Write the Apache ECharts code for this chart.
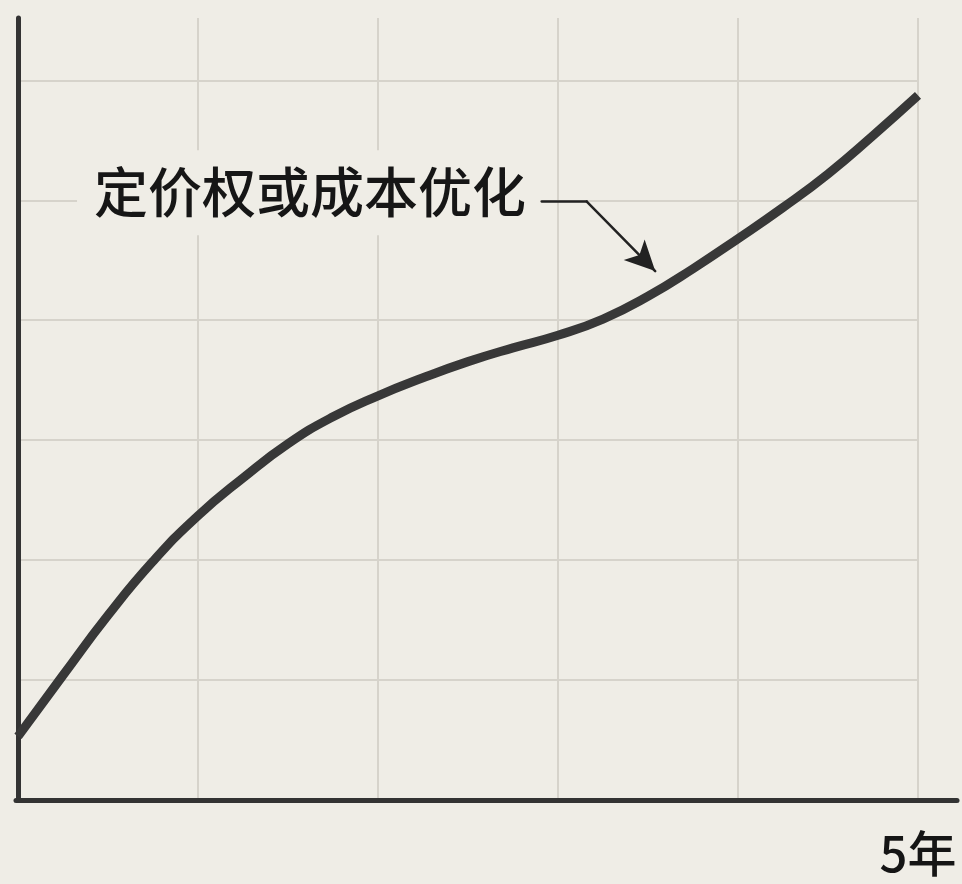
<!DOCTYPE html>
<html>
<head>
<meta charset="utf-8">
<script src="https://cdn.jsdelivr.net/npm/echarts@6/dist/echarts.min.js"></script>
<style>
  html, body { margin: 0; padding: 0; background: #efede6; }
  #chart { width: 962px; height: 884px; }
</style>
</head>
<body>
<div id="chart"></div>
<script>
// Years on x axis (0..5), value on y axis (grid units)
const xValues = [0, 0.25, 0.5, 0.75, 1, 1.25, 1.5, 1.75, 2, 2.25, 2.5, 2.75, 3, 3.25, 3.5, 3.75, 4, 4.25, 4.5, 4.75, 5];
const yValues = [0.53, 1.04, 1.54, 1.99, 2.37, 2.685, 2.97, 3.195, 3.37, 3.52, 3.655, 3.77, 3.875, 4.01, 4.2, 4.43, 4.68, 4.94, 5.22, 5.54, 5.875];
const xTickLabels = { 5: '5年' };
const annotationText = '定价权或成本优化';
const annotationAt = [1.614, 5.0625];
const arrowPath = [[2.91, 4.99], [3.16, 4.99], [3.54, 4.41]];

const BG = '#efede6';
const GRID = '#d6d3cb';
const INK = '#333333';

const chart = echarts.init(document.getElementById('chart'), null, { renderer: 'canvas' });

const seriesData = xValues.map((x, i) => [x, yValues[i]]);

chart.setOption({
  backgroundColor: BG,
  animation: false,
  grid: [
    { left: 18, right: 44, top: 18, bottom: 84 },
    { left: 16, right: 5, top: 18, bottom: 84 }
  ],
  xAxis: [
    {
      type: 'value', gridIndex: 0, min: 0, max: 5, interval: 1,
      axisLine: { show: false },
      axisTick: { show: false },
      axisLabel: {
        show: true, margin: 29,
        formatter: v => xTickLabels[v] || '',
        fontFamily: '"Noto Sans CJK SC", sans-serif',
        fontSize: 49, color: '#151515', fontWeight: 500
      },
      splitLine: { show: true, lineStyle: { color: GRID, width: 2 } }
    },
    {
      type: 'value', gridIndex: 1, min: 0, max: 1,
      axisLine: { show: true, onZero: false, lineStyle: { color: INK, width: 5 } },
      axisTick: { show: false }, axisLabel: { show: false }, splitLine: { show: false }
    }
  ],
  yAxis: [
    {
      type: 'value', gridIndex: 0, min: 0, max: 6.52, interval: 1,
      axisLine: { show: true, lineStyle: { color: INK, width: 5 } },
      axisTick: { show: false },
      axisLabel: { show: false },
      splitLine: { show: true, showMaxLine: false, lineStyle: { color: GRID, width: 2 } }
    },
    {
      type: 'value', gridIndex: 1, min: 0, max: 1, show: false
    }
  ],
  series: [
    {
      type: 'line',
      xAxisIndex: 0, yAxisIndex: 0,
      data: seriesData,
      smooth: 0.5,
      symbol: 'none',
      lineStyle: { color: '#383838', width: 9, cap: 'butt' },
      z: 3,
      markLine: {
        silent: true,
        symbol: ['none', 'none'],
        label: { show: false },
        lineStyle: { color: '#222', width: 2.5, type: 'solid', cap: 'round' },
        emphasis: { disabled: true },
        data: [
          [ { coord: arrowPath[0], symbol: 'none' }, { coord: arrowPath[1], symbol: 'none' } ],
          [ { coord: arrowPath[1], symbol: 'none' }, { coord: arrowPath[2], symbol: 'arrow', symbolSize: [22, 30] } ]
        ]
      },
      markPoint: {
        silent: true,
        symbol: 'rect',
        symbolSize: 1,
        itemStyle: { color: 'rgba(0,0,0,0)' },
        label: {
          show: true,
          position: 'inside',
          formatter: annotationText,
          fontFamily: '"Noto Sans CJK SC", sans-serif',
          fontSize: 54,
          lineHeight: 54,
          fontWeight: 500,
          color: '#161616',
          backgroundColor: BG,
          padding: [15, 14, 16, 17]
        },
        data: [ { coord: annotationAt } ]
      }
    }
  ]
});
</script>
</body>
</html>
